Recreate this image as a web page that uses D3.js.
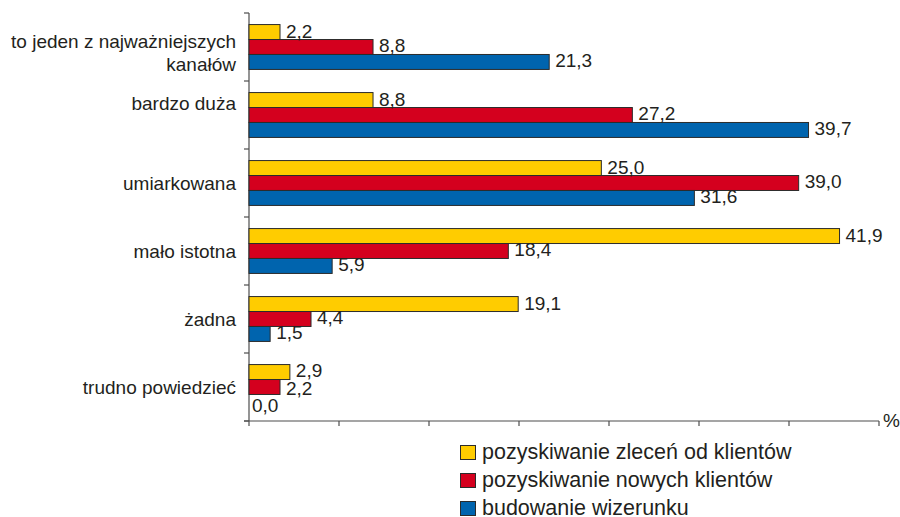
<!DOCTYPE html>
<html>
<head>
<meta charset="utf-8">
<script src="https://cdn.jsdelivr.net/npm/d3@7"></script>
<style>
  body { margin: 0; background: #fff; }
  text { font-family: "Liberation Sans", Arial, Helvetica, sans-serif; fill: #231f20; }
</style>
</head>
<body>
<div id="chart"></div>
<script>
// dane
let categories = ["to jeden z najważniejszych kanałów", "bardzo duża", "umiarkowana", "mało istotna", "żadna", "trudno powiedzieć"];
let series = ["pozyskiwanie zleceń od klientów", "pozyskiwanie nowych klientów", "budowanie wizerunku"];
let zlecenia = [2.2, 8.8, 25.0, 41.9, 19.1, 2.9];
let nowi = [8.8, 27.2, 39.0, 18.4, 4.4, 2.2];
let wizerunek = [21.3, 39.7, 31.6, 5.9, 1.5, 0.0];
let xMax = 44.7;
let xTickCount = 7;

visualizeBars();

function visualizeBars() {
  vis = this;

  vis.w = 900;
  vis.h = 517;
  vis.colors = d3.scaleOrdinal()
    .domain(series)
    .range(["#ffcc00", "#d4001e", "#0064ae"]);

  vis.svg = d3.select("#chart")
    .append("svg")
    .attr("width", vis.w)
    .attr("height", vis.h);

  vis.x = d3.scaleLinear()
    .domain([0, xMax])
    .range([249, 879]);

  vis.y0 = d3.scaleBand()
    .domain(categories)
    .range([13, 421])
    .padding(0);

  vis.y1 = d3.scaleBand()
    .domain(series)
    .range([vis.y0.bandwidth() * 0.17, vis.y0.bandwidth() * 0.83]);

  let rows = categories.map((c, i) => ({
    cat: c,
    vals: [zlecenia[i], nowi[i], wizerunek[i]].map((v, j) => ({ key: series[j], value: v, cat: c }))
  }));

  //osie
  let axisColor = "#4d4d4d";
  vis.svg.append("line")
    .attr("x1", vis.x(0)).attr("x2", vis.x(0))
    .attr("y1", 13).attr("y2", 421)
    .attr("stroke", axisColor).attr("stroke-width", 1.2);

  let yTicks = categories.map(c => vis.y0(c)).concat([421]);
  vis.svg.selectAll(".ytick")
    .data(yTicks)
    .enter()
    .append("line")
    .attr("class", "ytick")
    .attr("x1", vis.x(0) - 5).attr("x2", vis.x(0))
    .attr("y1", d => d).attr("y2", d => d)
    .attr("stroke", axisColor).attr("stroke-width", 1.2);

  vis.svg.append("line")
    .attr("x1", vis.x(0) - 5).attr("x2", vis.x(xMax))
    .attr("y1", 421).attr("y2", 421)
    .attr("stroke", axisColor).attr("stroke-width", 1.2);

  let xTicks = d3.range(xTickCount + 1).map(i => i * xMax / xTickCount);
  vis.svg.selectAll(".xtick")
    .data(xTicks)
    .enter()
    .append("line")
    .attr("class", "xtick")
    .attr("x1", d => vis.x(d)).attr("x2", d => vis.x(d))
    .attr("y1", 421).attr("y2", 426)
    .attr("stroke", axisColor).attr("stroke-width", 1.2);

  vis.svg.append("text")
    .attr("x", vis.x(xMax) + 4)
    .attr("y", 427)
    .style("font-size", "19px")
    .text("%");

  //slupki
  vis.groups = vis.svg.selectAll(".group")
    .data(rows)
    .enter()
    .append("g")
    .attr("class", "group")
    .attr("transform", d => `translate(0, ${vis.y0(d.cat)})`);

  vis.groups.selectAll(".bar")
    .data(d => d.vals)
    .enter()
    .append("rect")
    .attr("class", "bar")
    .attr("x", vis.x(0))
    .attr("y", d => vis.y1(d.key))
    .attr("width", d => vis.x(d.value) - vis.x(0))
    .attr("height", vis.y1.bandwidth())
    .attr("fill", d => vis.colors(d.key))
    .attr("stroke", d => d.value > 0 ? "#2b2b2b" : "none")
    .attr("stroke-width", 1);

  // ostatnia grupa ma etykiety rozsuniete (jak w oryginale)
  let valueShift = { "trudno powiedzieć": [-1, 3, 5] };

  vis.groups.selectAll(".value")
    .data(d => d.vals)
    .enter()
    .append("text")
    .attr("class", "value")
    .attr("x", d => vis.x(d.value) + (d.value > 0 ? 6 : 3))
    .attr("y", (d, i) => vis.y1(d.key) + vis.y1.bandwidth() - 2 + (valueShift[d.cat] ? valueShift[d.cat][i] : 0))
    .style("font-size", "19px")
    .text(d => d3.format(".1f")(d.value).replace(".", ","));

  //etykiety kategorii
  let labelLines = {
    "to jeden z najważniejszych kanałów": ["to jeden z najważniejszych", "kanałów"]
  };
  let labelShift = { "to jeden z najważniejszych kanałów": 1, "bardzo duża": -5 };

  vis.labels = vis.svg.selectAll(".label")
    .data(categories)
    .enter()
    .append("text")
    .attr("class", "label")
    .attr("text-anchor", "end")
    .style("font-size", "19px")
    .attr("transform", d => `translate(236, ${vis.y0(d) + vis.y0.bandwidth() / 2 + (labelShift[d] !== undefined ? labelShift[d] : 7)})`);

  vis.labels.selectAll("tspan")
    .data(d => labelLines[d] || [d])
    .enter()
    .append("tspan")
    .attr("x", 0)
    .attr("y", (d, i) => i * 23)
    .text(d => d);

  //legenda
  vis.legend = vis.svg.selectAll(".legend")
    .data(series)
    .enter()
    .append("g")
    .attr("class", "legend")
    .attr("transform", (d, i) => `translate(460, ${445 + i * 28})`);

  vis.legend.append("rect")
    .attr("x", 0.5).attr("y", 0.5)
    .attr("width", 15).attr("height", 14)
    .attr("fill", d => vis.colors(d))
    .attr("stroke", "#2b2b2b");

  vis.legend.append("text")
    .attr("x", 22)
    .attr("y", 14)
    .style("font-size", "21.5px")
    .text(d => d);
}
</script>
</body>
</html>
